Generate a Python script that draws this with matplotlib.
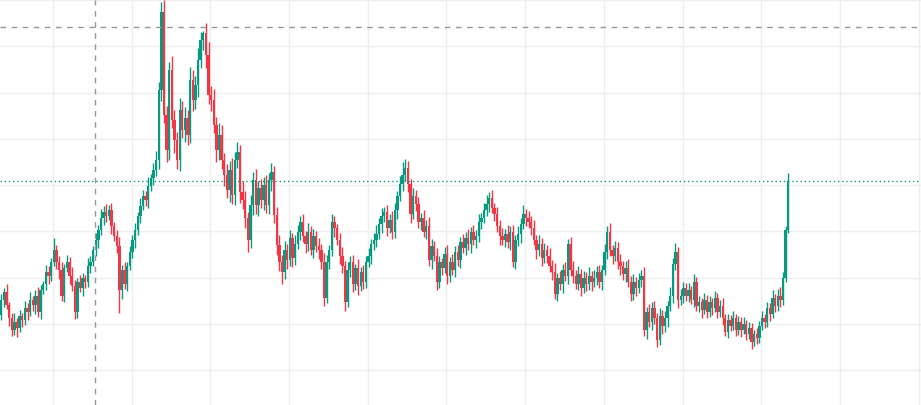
import numpy as np
import matplotlib
matplotlib.use("Agg")
import matplotlib.pyplot as plt

# closing prices, one per bar (open = previous close)
closes = [
    10.0, 10.8, 9.5, 8.2, 7.0, 7.8, 7.2, 8.4, 8.0, 9.2,
    8.8, 10.0, 9.5, 10.4, 8.8, 11.0, 11.6, 12.8, 12.4, 13.8,
    15.0, 13.8, 13.0, 10.4, 13.2, 13.8, 12.4, 11.4, 8.8, 11.8,
    11.2, 12.2, 11.8, 13.4, 13.8, 15.0, 16.0, 17.0, 18.2, 18.8,
    18.4, 19.0, 17.4, 16.4, 15.4, 11.0, 13.0, 11.6, 13.4, 14.8,
    16.0, 17.0, 18.4, 19.4, 20.4, 20.0, 21.4, 22.2, 23.0, 24.0,
    31.0, 38.8, 28.5, 25.0, 33.0, 28.0, 26.0, 24.0, 29.0, 27.0,
    28.2, 26.5, 32.0, 30.0, 31.5, 34.0, 36.0, 36.7, 34.5, 30.5,
    30.0, 27.5, 25.0, 26.5, 24.0, 22.5, 21.0, 23.0, 20.5, 24.0,
    24.8, 20.8, 20.0, 18.2, 16.0, 19.5, 22.0, 19.5, 21.2, 20.0,
    21.5, 19.5, 22.0, 22.8, 18.5, 15.5, 13.8, 12.8, 15.0, 14.0,
    16.2, 14.2, 15.6, 16.8, 17.8, 16.4, 15.6, 16.8, 15.0, 16.4,
    15.4, 15.0, 13.8, 10.2, 13.8, 15.0, 17.8, 17.2, 16.0, 14.4,
    13.4, 9.8, 13.0, 13.8, 11.6, 13.2, 11.4, 12.8, 11.8, 13.8,
    14.4, 15.6, 16.0, 16.6, 17.6, 18.4, 18.8, 17.2, 18.0, 16.8,
    19.0, 20.4, 21.6, 22.5, 23.2, 21.6, 18.6, 20.4, 19.6, 17.8,
    18.2, 16.8, 17.4, 14.0, 15.4, 14.4, 11.8, 13.8, 13.2, 14.6,
    12.4, 13.8, 13.0, 14.8, 14.0, 15.8, 15.2, 16.2, 15.6, 16.8,
    16.0, 16.4, 17.8, 18.2, 19.0, 19.6, 20.2, 19.2, 18.6, 17.4,
    16.4, 16.0, 16.6, 15.8, 16.8, 13.8, 16.0, 16.6, 17.6, 18.6,
    18.2, 17.8, 17.2, 16.0, 15.0, 15.6, 14.2, 15.0, 14.4, 13.4,
    12.8, 10.6, 12.2, 11.6, 13.0, 12.4, 15.6, 13.0, 12.4, 11.6,
    12.6, 11.2, 12.2, 11.6, 12.4, 11.8, 12.2, 12.8, 11.8, 13.0,
    14.8, 16.8, 15.0, 14.4, 15.2, 13.8, 13.4, 12.6, 13.2, 11.8,
    10.6, 11.8, 11.2, 12.0, 12.4, 7.0, 8.8, 7.8, 9.2, 8.2,
    6.0, 8.4, 7.4, 8.2, 9.4, 10.4, 13.6, 14.8, 10.0, 10.4,
    11.2, 10.4, 11.0, 10.0, 11.8, 9.4, 9.8, 9.0, 10.0, 8.8,
    9.8, 9.2, 10.2, 8.8, 9.4, 8.2, 6.8, 8.0, 7.4, 8.2,
    7.0, 7.8, 7.0, 7.6, 6.6, 7.2, 5.8, 6.6, 6.2, 7.4,
    8.2, 7.8, 9.2, 8.6, 10.2, 9.4, 10.4, 10.0, 12.2, 17.0,
    21.9,
]
first_open = 8.5

# how far each bar's high / low reaches past its body
wick_up = [
    0.6, 0.4, 0.8, 0.3, 0.5, 0.9, 0.4, 0.6, 0.3, 0.7,
    0.5, 0.8, 0.4, 0.6, 0.9, 0.5, 0.3, 0.7, 0.6, 0.4,
    1.2, 0.5, 0.6, 0.8, 0.4, 0.7, 0.5, 0.9, 0.6, 0.4,
    0.7, 0.5, 0.3, 0.8, 0.6, 0.4, 0.7, 0.5, 0.9, 0.6,
    0.8, 0.5, 0.7, 0.4, 0.6, 0.9, 0.5, 0.8, 0.4, 0.6,
    0.5, 0.7, 0.4, 0.8, 0.6, 0.5, 0.9, 0.4, 0.7, 0.9,
    0.8, 1.0, 1.2, 0.9, 0.8, 1.4, 1.0, 0.8, 1.2, 0.9,
    1.1, 0.8, 1.3, 1.0, 0.9, 1.2, 0.8, 0.2, 1.0, 1.3,
    0.9, 1.1, 0.8, 1.2, 1.0, 0.7, 1.1, 0.9, 1.2, 0.8,
    1.0, 0.7, 1.1, 0.9, 0.6, 1.0, 0.8, 1.1, 0.7, 0.9,
    0.8, 1.0, 0.7, 0.9, 0.6, 0.8, 1.0, 0.7, 0.9, 0.6,
    0.8, 0.5, 0.9, 0.7, 0.6, 0.8, 0.5, 0.9, 0.6, 0.7,
    0.5, 0.8, 0.6, 0.9, 0.7, 0.5, 0.8, 0.6, 0.4, 0.7,
    0.9, 0.5, 0.8, 0.6, 0.7, 0.4, 0.9, 0.5, 0.7, 0.6,
    0.8, 0.5, 0.7, 0.9, 0.6, 0.8, 0.5, 0.7, 0.6, 0.9,
    0.7, 0.5, 0.8, 0.6, 0.9, 0.7, 0.5, 0.8, 0.6, 0.7,
    0.5, 0.8, 0.6, 0.9, 0.7, 0.5, 0.8, 0.6, 0.4, 0.7,
    0.9, 0.5, 0.8, 0.6, 0.7, 0.5, 0.8, 0.6, 0.9, 0.5,
    0.7, 0.6, 0.8, 0.5, 0.7, 0.9, 0.6, 0.8, 0.5, 0.7,
    0.6, 0.8, 0.5, 0.9, 0.6, 0.7, 0.5, 0.8, 0.6, 0.9,
    0.5, 0.7, 0.6, 0.8, 0.5, 0.9, 0.6, 0.7, 0.5, 0.8,
    0.6, 0.9, 0.5, 0.7, 0.6, 0.8, 0.5, 0.7, 0.9, 0.6,
    0.8, 0.5, 0.7, 0.6, 0.9, 0.5, 0.8, 0.6, 0.7, 0.5,
    0.8, 0.6, 0.9, 0.5, 0.7, 0.6, 0.8, 0.5, 0.7, 0.9,
    0.6, 0.8, 0.5, 0.7, 0.6, 0.9, 0.5, 0.8, 0.6, 0.7,
    0.5, 0.8, 0.6, 0.7, 0.5, 0.9, 0.6, 0.8, 0.5, 0.7,
    0.6, 0.5, 0.7, 0.4, 0.8, 0.5, 0.6, 0.4, 0.7, 0.5,
    0.6, 0.4, 0.7, 0.5, 0.6, 0.8, 0.4, 0.6, 0.5, 0.7,
    0.4, 0.6, 0.5, 0.7, 0.4, 0.6, 0.5, 0.4, 0.6, 0.5,
    0.7, 0.4, 0.6, 0.5, 0.8, 0.4, 0.7, 0.9, 0.6, 0.4,
    0.8,
]
wick_down = [
    0.5, 0.7, 0.4, 0.8, 0.6, 0.5, 0.9, 0.4, 0.7, 0.5,
    0.8, 0.4, 0.6, 0.9, 0.5, 0.7, 0.4, 0.6, 0.8, 0.5,
    0.4, 0.7, 0.9, 0.5, 0.6, 0.4, 0.8, 0.5, 0.7, 0.6,
    0.4, 0.8, 0.6, 0.5, 0.7, 0.4, 0.6, 0.8, 0.5, 0.7,
    0.6, 0.4, 0.8, 0.5, 0.7, 0.6, 0.9, 0.5, 0.7, 0.4,
    0.6, 0.8, 0.5, 0.7, 0.4, 0.6, 0.8, 0.5, 0.7, 0.6,
    0.9, 1.1, 0.8, 1.2, 1.0, 0.8, 1.3, 0.9, 1.1, 0.8,
    1.2, 1.0, 0.8, 1.1, 0.9, 1.2, 0.8, 1.0, 1.3, 0.9,
    1.1, 0.8, 1.2, 1.0, 0.9, 1.1, 0.8, 1.2, 0.9, 1.0,
    0.8, 1.1, 0.9, 1.0, 1.2, 0.8, 1.0, 0.9, 1.1, 0.8,
    1.0, 0.8, 0.9, 1.1, 0.8, 1.0, 0.9, 1.2, 0.7, 0.9,
    0.6, 0.9, 0.7, 0.5, 0.8, 0.6, 0.9, 0.7, 0.5, 0.8,
    0.6, 0.9, 0.7, 0.8, 0.5, 0.7, 0.6, 0.9, 0.5, 0.8,
    0.7, 0.9, 0.5, 0.7, 0.8, 0.6, 0.9, 0.5, 0.7, 0.6,
    0.5, 0.8, 0.6, 0.7, 0.5, 0.9, 0.6, 0.8, 0.5, 0.7,
    0.6, 0.9, 0.5, 0.7, 0.6, 0.8, 0.9, 0.5, 0.7, 0.6,
    0.8, 0.5, 0.7, 0.6, 0.9, 0.5, 0.8, 0.6, 0.7, 0.5,
    0.8, 0.6, 0.5, 0.7, 0.6, 0.8, 0.5, 0.7, 0.6, 0.9,
    0.5, 0.8, 0.6, 0.7, 0.5, 0.6, 0.8, 0.5, 0.7, 0.6,
    0.9, 0.5, 0.7, 0.6, 0.8, 0.5, 0.7, 0.6, 0.9, 0.5,
    0.8, 0.6, 0.7, 0.5, 0.9, 0.6, 0.8, 0.5, 0.7, 0.6,
    0.8, 0.5, 0.7, 0.6, 0.9, 0.5, 0.8, 0.6, 0.7, 0.5,
    0.6, 0.8, 0.5, 0.7, 0.6, 0.9, 0.5, 0.7, 0.6, 0.8,
    0.5, 0.7, 0.6, 0.8, 0.5, 0.7, 0.9, 0.6, 0.8, 0.5,
    0.7, 0.6, 0.8, 0.5, 0.7, 0.6, 0.9, 0.5, 0.8, 0.6,
    0.7, 0.5, 0.8, 0.6, 0.9, 0.5, 0.7, 0.6, 0.8, 0.5,
    0.7, 0.5, 0.6, 0.4, 0.7, 0.5, 0.6, 0.8, 0.4, 0.6,
    0.5, 0.7, 0.4, 0.6, 0.5, 0.7, 0.4, 0.6, 0.5, 0.4,
    0.6, 0.5, 0.7, 0.4, 0.6, 0.5, 0.7, 0.4, 0.6, 0.5,
    0.4, 0.6, 0.5, 0.7, 0.4, 0.6, 0.5, 0.7, 0.5, 0.4,
    0.3,
]

# wicks that reach well past the bodies
spike_index = [61, 77, 153, 257, 300]
spike_high = [39.8, 36.9, 23.8, 15.7, 22.7]
dip_index = [45, 250, 286]
dip_low = [8.7, 5.5, 5.4]

last_price = 21.9
marked_level = 37.3
marked_bar = 35.7

UP = "#089981"
DOWN = "#F23645"
GRID = "#efefef"
CROSS = "#9598a1"


def main():
    c = np.array(closes)
    o = np.concatenate([[first_open], c[:-1]])
    hi = np.maximum(o, c) + np.array(wick_up)
    lo = np.minimum(o, c) - np.array(wick_down)
    hi[spike_index] = np.maximum(hi[spike_index], spike_high)
    lo[dip_index] = np.minimum(lo[dip_index], dip_low)
    idx = np.arange(len(c))
    colors = np.where(c >= o, UP, DOWN)

    fig = plt.figure(figsize=(9.21, 4.05), dpi=100)
    ax = fig.add_axes([0, 0, 1, 1])

    ax.set_xlim(-0.5, 350.6)
    ax.set_ylim(-0.5, 40.0)
    ax.set_xticks(np.arange(19.7, 351, 30))
    ax.set_yticks(np.arange(3.0, 40.1, 4.625))
    ax.grid(True, color=GRID, linewidth=1)
    ax.set_axisbelow(True)
    ax.tick_params(length=0, labelbottom=False, labelleft=False)
    for s in ax.spines.values():
        s.set_visible(False)

    # ── candles ──────────────────────────────────────────────────────────────
    ax.vlines(idx, lo, hi, colors=colors, linewidth=1.0)
    body = np.maximum(np.abs(c - o), 0.1)
    ax.bar(idx, body, bottom=np.minimum(o, c), width=0.9,
           color=colors, linewidth=0)

    # ── crosshair and price line ─────────────────────────────────────────────
    ax.axhline(marked_level, color=CROSS, linestyle=(0, (4, 4)), linewidth=1)
    ax.axvline(marked_bar, color=CROSS, linestyle=(0, (4, 4)), linewidth=1)
    ax.axhline(last_price, color=UP, linestyle=(0, (1, 2)), linewidth=1)

    fig.savefig("out.png", dpi=100)


if __name__ == "__main__":
    main()
